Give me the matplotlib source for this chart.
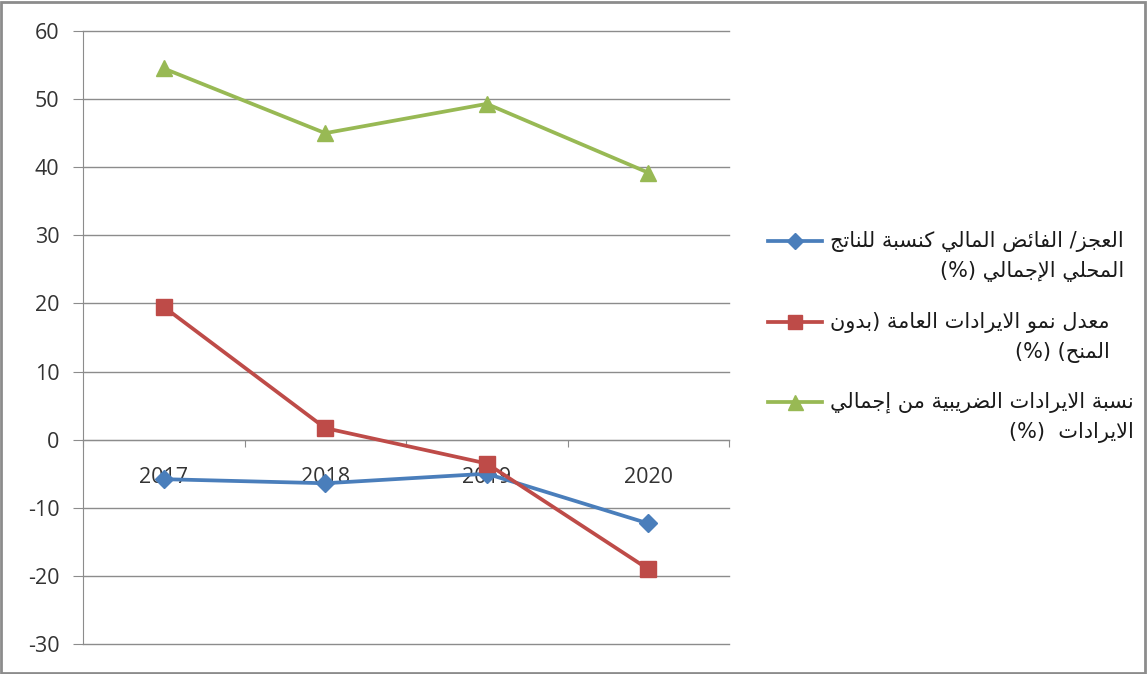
import matplotlib
matplotlib.use('Agg')
import matplotlib.pyplot as plt
from matplotlib.lines import Line2D
from matplotlib.patches import Rectangle
import numpy as np

plt.rcParams['font.family'] = ['Open Sans', 'DejaVu Sans']
plt.rcParams['axes.unicode_minus'] = False

# data
years = ['2017', '2018', '2019', '2020']
deficit = [-5.8, -6.4, -5.0, -12.3]
revenue_growth = [19.5, 1.7, -3.5, -19.0]
tax_share = [54.5, 45.0, 49.3, 39.2]

labels = [
    'العجز/ الفائض المالي كنسبة للناتج\nالمحلي الإجمالي (%)',
    'معدل نمو الايرادات العامة (بدون\nالمنح) (%)',
    'نسبة الايرادات الضريبية من إجمالي\nالايرادات  (%)',
]

# matplotlib has no Arabic shaping, so pick the joined presentation forms by hand
FORMS = {
    'ا': ('\uFE8D', '\uFE8E', None, None),
    'إ': ('\uFE87', '\uFE88', None, None),
    'ب': ('\uFE8F', '\uFE90', '\uFE91', '\uFE92'),
    'ة': ('\uFE93', '\uFE94', None, None),
    'ت': ('\uFE95', '\uFE96', '\uFE97', '\uFE98'),
    'ج': ('\uFE9D', '\uFE9E', '\uFE9F', '\uFEA0'),
    'ح': ('\uFEA1', '\uFEA2', '\uFEA3', '\uFEA4'),
    'د': ('\uFEA9', '\uFEAA', None, None),
    'ر': ('\uFEAD', '\uFEAE', None, None),
    'ز': ('\uFEAF', '\uFEB0', None, None),
    'س': ('\uFEB1', '\uFEB2', '\uFEB3', '\uFEB4'),
    'ض': ('\uFEBD', '\uFEBE', '\uFEBF', '\uFEC0'),
    'ع': ('\uFEC9', '\uFECA', '\uFECB', '\uFECC'),
    'ف': ('\uFED1', '\uFED2', '\uFED3', '\uFED4'),
    'ك': ('\uFED9', '\uFEDA', '\uFEDB', '\uFEDC'),
    'ل': ('\uFEDD', '\uFEDE', '\uFEDF', '\uFEE0'),
    'م': ('\uFEE1', '\uFEE2', '\uFEE3', '\uFEE4'),
    'ن': ('\uFEE5', '\uFEE6', '\uFEE7', '\uFEE8'),
    'و': ('\uFEED', '\uFEEE', None, None),
    'ي': ('\uFEF1', '\uFEF2', '\uFEF3', '\uFEF4'),
    'ئ': ('\uFE89', '\uFE8A', '\uFE8B', '\uFE8C'),
}
LAM_ALEF = {'ا': ('\uFEFB', '\uFEFC'), 'إ': ('\uFEF9', '\uFEFA')}
MIRROR = {'(': ')', ')': '('}


def shape_line(s):
    out = []
    i = 0
    while i < len(s):
        c = s[i]
        if c not in FORMS:
            out.append(c)
            i += 1
            continue
        prev = s[i - 1] if i > 0 else None
        joins_prev = prev in FORMS and FORMS[prev][2] is not None
        if c == 'ل' and i + 1 < len(s) and s[i + 1] in LAM_ALEF:
            iso, fin = LAM_ALEF[s[i + 1]]
            out.append(fin if joins_prev else iso)
            i += 2
            continue
        nxt = s[i + 1] if i + 1 < len(s) else None
        iso, fin, ini, med = FORMS[c]
        joins_next = ini is not None and nxt in FORMS
        if joins_prev and joins_next:
            out.append(med)
        elif joins_prev:
            out.append(fin)
        elif joins_next:
            out.append(ini)
        else:
            out.append(iso)
        i += 1
    # right-to-left visual order
    return ''.join(MIRROR.get(ch, ch) for ch in reversed(out))


def rtl(text):
    return '\n'.join(shape_line(line) for line in text.split('\n'))


colors = ['#4a7ebb', '#be4b48', '#98b954']
markers = ['D', 's', '^']
msizes = [9, 11, 12]
series = [deficit, revenue_growth, tax_share]

W, H = 1147, 674
fig = plt.figure(figsize=(W / 100, H / 100), dpi=100)
ax = fig.add_axes([83 / W, 1 - 644 / H, (729 - 83) / W, (644 - 31) / H])

x = np.arange(len(years))
for vals, c, m, ms in zip(series, colors, markers, msizes):
    ax.plot(x, vals, color=c, marker=m, ms=ms, lw=2.7, zorder=3)

ax.set_xlim(-0.5, len(years) - 0.5)
ax.set_ylim(-30, 60)
ax.set_yticks(range(-30, 61, 10))
ax.grid(axis='y', color='#8c8c8c', lw=1)
ax.set_axisbelow(True)
for gl in ax.get_ygridlines():
    gl.set_clip_on(False)

for side in ['top', 'right']:
    ax.spines[side].set_visible(False)
ax.spines['left'].set_color('#8c8c8c')
ax.spines['bottom'].set_color('#8c8c8c')
ax.spines['bottom'].set_position(('data', 0))

ax.set_xticks(np.arange(len(years) + 1) - 0.5)
ax.set_xticklabels([])
ax.set_xticks(x, minor=True)
ax.set_xticklabels(years, minor=True)
ax.tick_params(axis='x', which='major', direction='out', length=5, color='#8c8c8c')
ax.tick_params(axis='x', which='minor', length=0, pad=20, labelsize=15.5, labelcolor='#333333')
ax.tick_params(axis='y', direction='out', length=7, color='#8c8c8c', pad=10,
               labelsize=15.5, labelcolor='#333333')

# legend drawn by hand so the handle sits on the first text line
handle_y = [241, 322, 402]
for lab, c, m, ms, hy in zip(labels, colors, markers, msizes, handle_y):
    yf = 1 - hy / H
    fig.add_artist(Line2D([768 / W, 822 / W], [yf, yf], color=c, lw=2.7))
    fig.add_artist(Line2D([795 / W], [yf], color=c, marker=m, ms=ms * 0.9))
    fig.text(830 / W, 1 - (hy - 10) / H, rtl(lab), ha='left', va='top',
             multialignment='right', fontsize=15, family='DejaVu Sans',
             color='#1a1a1a', linespacing=1.55)

fig.add_artist(Rectangle((1 / W, 1 / H), 1 - 3 / W, 1 - 3 / H, transform=fig.transFigure,
                         fill=False, ec='#8c8c8c', lw=2))

fig.savefig('out.png', dpi=100)
